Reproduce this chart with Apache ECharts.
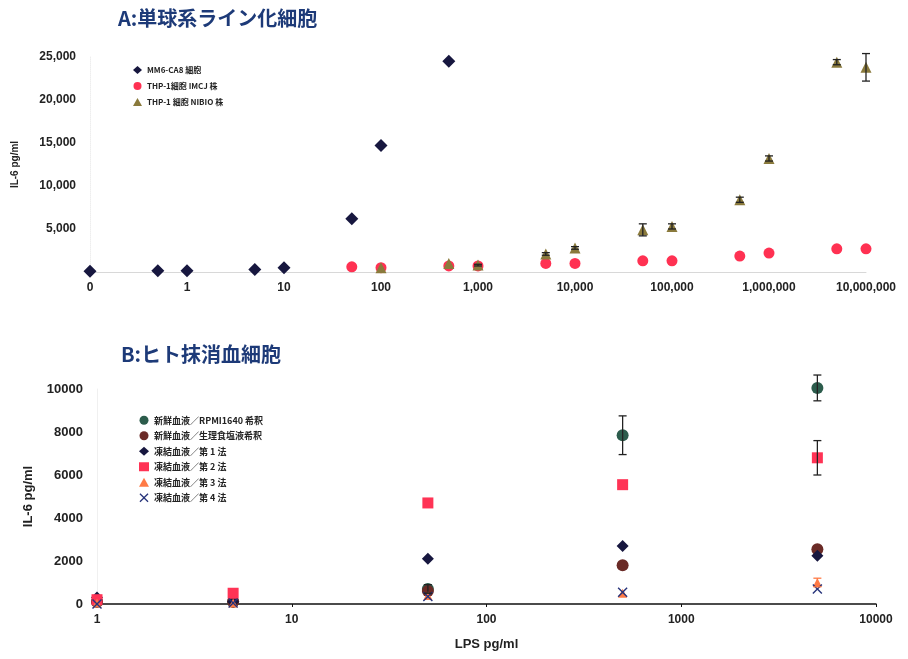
<!DOCTYPE html>
<html><head><meta charset="utf-8">
<script src="https://cdn.jsdelivr.net/npm/echarts@6/dist/echarts.min.js"></script>
<style>html,body{margin:0;padding:0;background:#fff}#c{width:908px;height:659px}</style>
</head><body><div id="c"></div>
<script>
// ---------- Chart A data ----------
const titleA = 'A:単球系ライン化細胞';
const ticksA = [0, 1, 10, 100, 1000, 10000, 100000, 1000000, 10000000];
const namesA = ['MM6-CA8 細胞', 'THP-1細胞 IMCJ 株', 'THP-1 細胞 NIBIO 株'];
const mm6X = [0, 0.5, 1, 5, 10, 50, 100, 500];
const mm6Y = [100, 150, 150, 300, 500, 6200, 14700, 24500];
const imcjX = [50, 100, 500, 1000, 5000, 10000, 50000, 100000, 500000, 1000000, 5000000, 10000000];
const imcjY = [600, 500, 700, 700, 1000, 1000, 1300, 1300, 1850, 2200, 2700, 2700];
const nibioX = [100, 500, 1000, 5000, 10000, 50000, 100000, 500000, 1000000, 5000000, 10000000];
const nibioY = [500, 1000, 800, 2100, 2800, 4900, 5300, 8400, 13200, 24400, 23800];
const nibioErr = [0, 0, 100, 150, 150, 700, 300, 300, 300, 300, 1600];

// ---------- Chart B data ----------
const titleB = 'B:ヒト抹消血細胞';
const namesB = ['新鮮血液／RPMI1640 希釈', '新鮮血液／生理食塩液希釈', '凍結血液／第 1 法', '凍結血液／第 2 法', '凍結血液／第 3 法', '凍結血液／第 4 法'];
const lpsB = [1, 5, 50, 500, 5000];
const freshRpmi = [100, 100, 700, 7850, 10050];
const freshRpmiErr = [0, 0, 200, 900, 600];
const freshSaline = [100, 100, 600, 1800, 2550];
const frozen1 = [300, 100, 2100, 2700, 2250];
const frozen2 = [200, 500, 4700, 5550, 6800];
const frozen2Err = [0, 0, 0, 0, 800];
const frozen3 = [50, 50, 400, 500, 1000];
const frozen3Err = [0, 0, 0, 0, 200];
const frozen4 = [0, 50, 350, 550, 700];

// zero concentration is drawn at the axis position labelled "0"
const ZERO_POS = 0.1;
const px = v => (v === 0 ? ZERO_POS : v);
const pairs = (xs, ys) => xs.map((x, i) => [px(x), ys[i]]);
const errData = (xs, ys, es) => xs.map((x, i) => [px(x), ys[i], es[i]]).filter(d => d[2] > 0);

const numFont = 'Liberation Sans';
const cjk = 'Noto Sans CJK JP';

const C = {
  navy: '#17173f', red: '#ff3152', olive: '#8a7a3c',
  green: '#2c5c4c', brown: '#6a2a26', sq: '#ff3355', orange: '#ff7a45', xblue: '#27337a'
};
const xSym = 'path://M0,1 L1,0 L5,4 L9,0 L10,1 L6,5 L10,9 L9,10 L5,6 L1,10 L0,9 L4,5 Z';

function errSeries(xi, yi, data, color) {
  return {
    type: 'custom', xAxisIndex: xi, yAxisIndex: yi, data: data, z: 5, silent: true, clip: false,
    renderItem: function (params, api) {
      const x = api.value(0), y = api.value(1), e = api.value(2);
      const top = api.coord([x, y + e]);
      const bot = api.coord([x, y - e]);
      const w = 4;
      const st = { stroke: color, lineWidth: 1.3 };
      return { type: 'group', children: [
        { type: 'line', shape: { x1: top[0], y1: top[1], x2: bot[0], y2: bot[1] }, style: st },
        { type: 'line', shape: { x1: top[0] - w, y1: top[1], x2: top[0] + w, y2: top[1] }, style: st },
        { type: 'line', shape: { x1: bot[0] - w, y1: bot[1], x2: bot[0] + w, y2: bot[1] }, style: st }
      ]};
    }
  };
}
function sc(name, xi, sym, size, color, data) {
  return { name: name, type: 'scatter', xAxisIndex: xi, yAxisIndex: xi, symbol: sym, symbolSize: size,
    clip: false, itemStyle: { color: color, opacity: 1 }, data: data };
}

const fmtComma = v => Math.round(v).toString().replace(/\B(?=(\d{3})+(?!\d))/g, ',');

const chart = echarts.init(document.getElementById('c'));
chart.setOption({
  animation: false,
  backgroundColor: '#fff',
  title: [
    { text: titleA, left: 113, top: 3, textStyle: { fontFamily: cjk, fontWeight: 'bold', fontSize: 20, color: '#1d3a78' } },
    { text: titleB, left: 116, top: 339, textStyle: { fontFamily: cjk, fontWeight: 'bold', fontSize: 20, color: '#1d3a78' } }
  ],
  legend: [
    { data: namesA, orient: 'vertical', left: 128, top: 60, itemWidth: 9, itemHeight: 8, itemGap: 6,
      textStyle: { fontFamily: cjk, fontWeight: 'bold', fontSize: 8, color: '#222', lineHeight: 10 } },
    { data: namesB, orient: 'vertical', left: 134, top: 410, itemWidth: 10, itemHeight: 9, itemGap: 5,
      textStyle: { fontFamily: cjk, fontWeight: 'bold', fontSize: 9, color: '#222', lineHeight: 10.5 } }
  ],
  grid: [
    { left: 90, right: 42, top: 57, bottom: 387 },
    { left: 97, right: 32, top: 389, bottom: 55 }
  ],
  xAxis: [
    { type: 'log', gridIndex: 0, logBase: 10, min: ZERO_POS, max: 10000000,
      axisLine: { lineStyle: { color: '#d8d8d8', width: 1 } }, axisTick: { show: false }, splitLine: { show: false },
      axisLabel: { margin: 10, fontFamily: numFont, fontWeight: 'bold', fontSize: 12, color: '#222',
        formatter: v => (v <= ZERO_POS * 1.01 ? String(ticksA[0]) : fmtComma(v)) } },
    { type: 'log', gridIndex: 1, logBase: 10, min: 1, max: 10000,
      name: 'LPS pg/ml', nameLocation: 'middle', nameGap: 34,
      nameTextStyle: { fontFamily: numFont, fontWeight: 'bold', fontSize: 13, color: '#222' },
      axisLine: { lineStyle: { color: '#111', width: 1.5 } }, axisTick: { show: true, length: 3, lineStyle: { color: '#111' } },
      splitLine: { show: false },
      axisLabel: { margin: 10, fontFamily: numFont, fontWeight: 'bold', fontSize: 12, color: '#222',
        formatter: v => String(Math.round(v)) } }
  ],
  yAxis: [
    { type: 'value', gridIndex: 0, min: 0, max: 25000, interval: 5000,
      name: 'IL-6 pg/ml', nameLocation: 'middle', nameGap: 70, nameRotate: 90,
      nameTextStyle: { fontFamily: numFont, fontWeight: 'bold', fontSize: 10, color: '#222' },
      axisLine: { show: true, lineStyle: { color: '#eeeeee', type: 'dotted' } }, axisTick: { show: false }, splitLine: { show: false },
      axisLabel: { margin: 14, fontFamily: numFont, fontWeight: 'bold', fontSize: 12, color: '#222',
        formatter: v => (v === 0 ? '' : fmtComma(v)) } },
    { type: 'value', gridIndex: 1, min: 0, max: 10000, interval: 2000,
      name: 'IL-6 pg/ml', nameLocation: 'middle', nameGap: 62, nameRotate: 90,
      nameTextStyle: { fontFamily: numFont, fontWeight: 'bold', fontSize: 13, color: '#222' },
      axisLine: { show: true, lineStyle: { color: '#f0f0f0' } }, axisTick: { show: false }, splitLine: { show: false },
      axisLabel: { margin: 14, fontFamily: numFont, fontWeight: 'bold', fontSize: 13, color: '#222',
        formatter: v => String(v) } }
  ],
  series: [
    sc(namesA[1], 0, 'circle', 11, C.red, pairs(imcjX, imcjY)),
    errSeries(0, 0, errData(nibioX, nibioY, nibioErr), '#222'),
    sc(namesA[2], 0, 'triangle', 11, C.olive, pairs(nibioX, nibioY)),
    sc(namesA[0], 0, 'diamond', 13, C.navy, pairs(mm6X, mm6Y)),

    errSeries(1, 1, errData(lpsB, freshRpmi, freshRpmiErr), '#222'),
    errSeries(1, 1, errData(lpsB, frozen2, frozen2Err), '#222'),
    errSeries(1, 1, errData(lpsB, frozen3, frozen3Err), '#ff7a45'),
    sc(namesB[0], 1, 'circle', 12, C.green, pairs(lpsB, freshRpmi)),
    sc(namesB[1], 1, 'circle', 12, C.brown, pairs(lpsB, freshSaline)),
    sc(namesB[2], 1, 'diamond', 12, C.navy, pairs(lpsB, frozen1)),
    sc(namesB[3], 1, 'rect', 11, C.sq, pairs(lpsB, frozen2)),
    sc(namesB[4], 1, 'triangle', 9, C.orange, pairs(lpsB, frozen3)),
    sc(namesB[5], 1, xSym, 10, C.xblue, pairs(lpsB, frozen4))
  ]
});
</script></body></html>
